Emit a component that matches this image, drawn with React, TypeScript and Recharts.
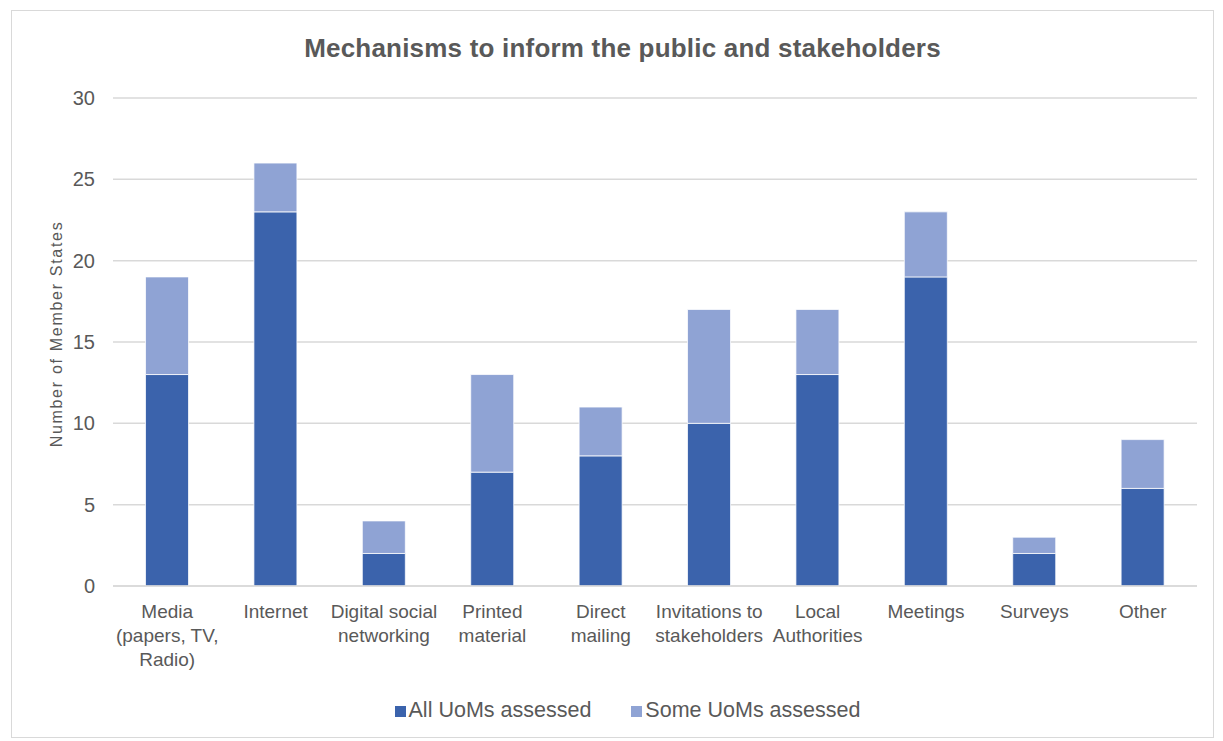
import { BarChart, Bar, XAxis, YAxis, CartesianGrid, Legend } from 'recharts';

const categories = [
  'Media (papers, TV, Radio)',
  'Internet',
  'Digital social networking',
  'Printed material',
  'Direct mailing',
  'Invitations to stakeholders',
  'Local Authorities',
  'Meetings',
  'Surveys',
  'Other',
];

// label lines as wrapped in the original
const labelLines: string[][] = [
  ['Media', '(papers, TV,', 'Radio)'],
  ['Internet'],
  ['Digital social', 'networking'],
  ['Printed', 'material'],
  ['Direct', 'mailing'],
  ['Invitations to', 'stakeholders'],
  ['Local', 'Authorities'],
  ['Meetings'],
  ['Surveys'],
  ['Other'],
];

const allAssessed = [13, 23, 2, 7, 8, 10, 13, 19, 2, 6];
const someAssessed = [6, 3, 2, 6, 3, 7, 4, 4, 1, 3];
const yTicks = [0, 5, 10, 15, 20, 25, 30];

const data = categories.map((name, i) => ({
  name,
  all: allAssessed[i],
  some: someAssessed[i],
}));

const FONT = '"Liberation Sans", Arial, sans-serif';
const GREY = '#595959';

function CategoryTick(props: any) {
  const { x, y, payload } = props;
  const lines = labelLines[payload.index] || [payload.value];
  return (
    <text x={x} y={y} textAnchor="middle" fill={GREY} fontSize={19} fontFamily={FONT}>
      {lines.map((l, i) => (
        <tspan key={i} x={x} dy={24}>
          {l}
        </tspan>
      ))}
    </text>
  );
}

function LegendBox(props: any) {
  const items = props.payload || [];
  return (
    <div style={{ textAlign: 'center', paddingLeft: 46, fontSize: 21.5, color: GREY }}>
      {items.map((it: any, i: number) => (
        <span key={i} style={{ marginLeft: i === 0 ? 0 : 40, whiteSpace: 'nowrap' }}>
          <span
            style={{
              display: 'inline-block',
              width: 11,
              height: 11,
              background: it.color,
              marginRight: 3,
            }}
          />
          {it.value}
        </span>
      ))}
    </div>
  );
}

export default function App() {
  return (
    <div
      style={{
        position: 'absolute',
        left: 11,
        top: 10,
        width: 1201,
        height: 726,
        border: '1.5px solid #d9d9d9',
        background: '#fff',
        fontFamily: FONT,
      }}
    >
      <div
        style={{
          position: 'absolute',
          top: 22,
          left: 10,
          width: '100%',
          textAlign: 'center',
          fontSize: 26,
          letterSpacing: 0.2,
          fontWeight: 'bold',
          color: GREY,
        }}
      >
        Mechanisms to inform the public and stakeholders
      </div>
      <BarChart
        width={1201}
        height={726}
        data={data}
        margin={{ top: 87, right: 16, bottom: 66, left: 0 }}
        barCategoryGap="30%"
      >
        <CartesianGrid vertical={false} stroke="#d9d9d9" strokeWidth={1.5} />
        <XAxis
          dataKey="name"
          interval={0}
          tickLine={false}
          axisLine={{ stroke: '#d9d9d9', strokeWidth: 1.5 }}
          tick={<CategoryTick />}
          height={60}
        />
        <YAxis
          width={101}
          domain={[0, 30]}
          ticks={yTicks}
          tickLine={false}
          axisLine={false}
          tickSize={0}
          tickMargin={18}
          tick={{ fill: GREY, fontSize: 20, fontFamily: FONT }}
          label={{
            value: 'Number of Member States',
            angle: -90,
            position: 'insideLeft',
            dx: 39,
            dy: -8,
            style: { textAnchor: 'middle', fill: GREY, fontSize: 16, letterSpacing: 1.7, fontFamily: FONT },
          }}
        />
        <Legend
          verticalAlign="bottom"
          align="center"
          wrapperStyle={{ bottom: 14, fontFamily: FONT }}
          content={<LegendBox />}
        />
        <Bar
          dataKey="all"
          name="All UoMs assessed"
          stackId="a"
          fill="#3b63ac"
          stroke="#ffffff"
          strokeWidth={0.75}
          isAnimationActive={false}
        />
        <Bar
          dataKey="some"
          name="Some UoMs assessed"
          stackId="a"
          fill="#8fa3d4"
          stroke="#ffffff"
          strokeWidth={0.75}
          isAnimationActive={false}
        />
      </BarChart>
    </div>
  );
}
